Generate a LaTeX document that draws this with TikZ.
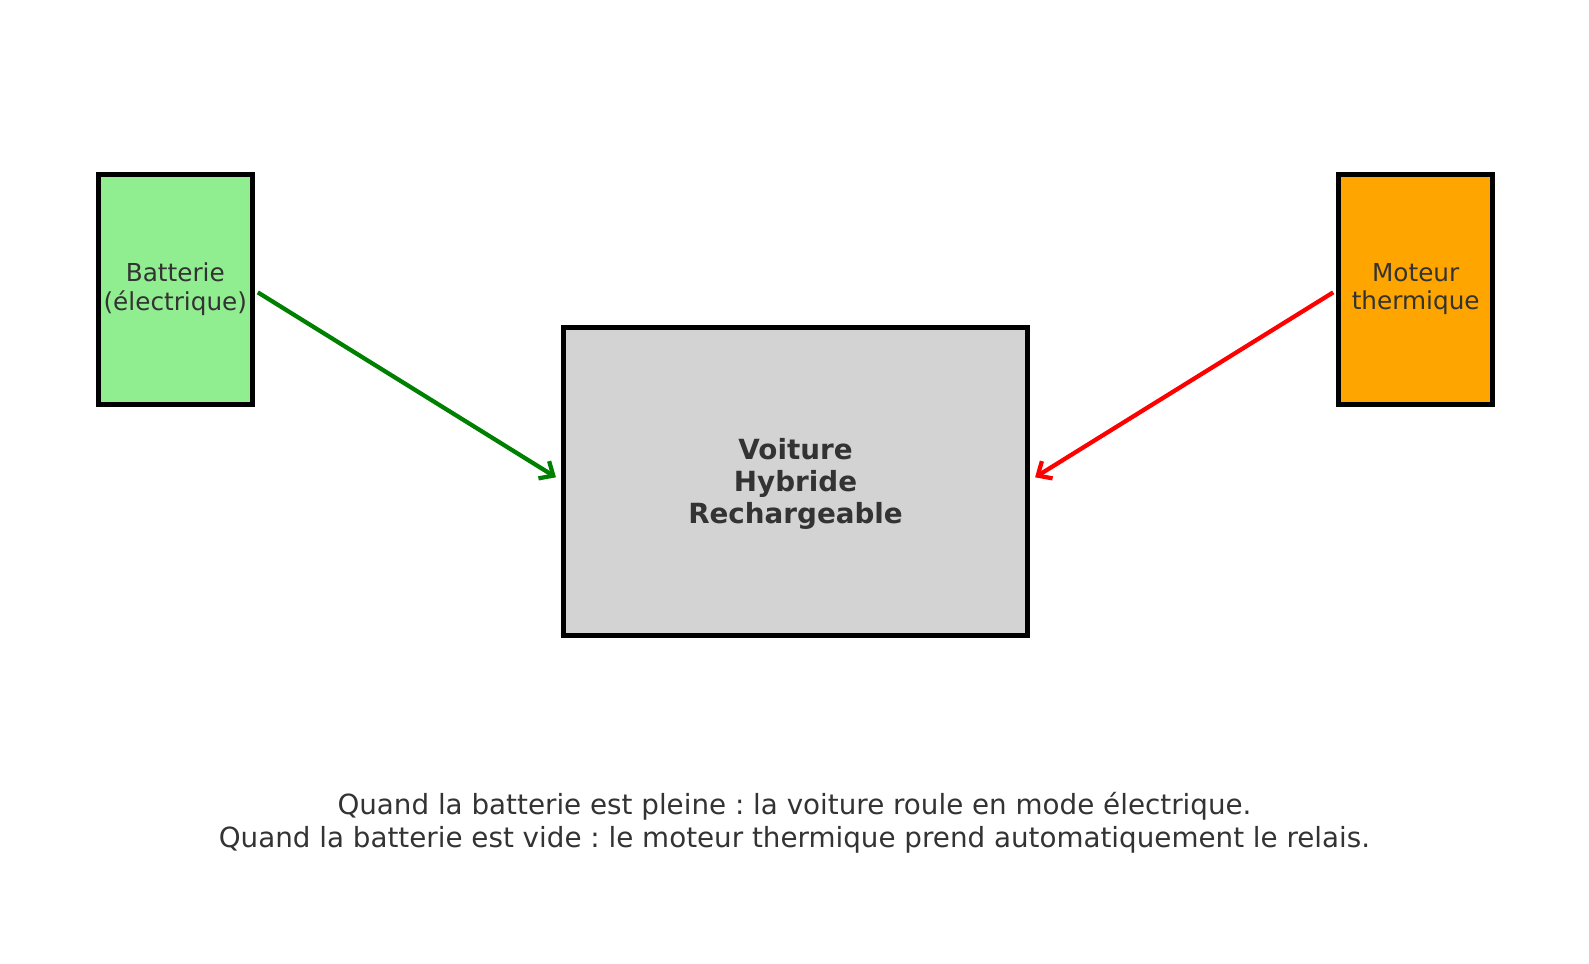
\documentclass[tikz,border=0pt]{standalone}
\usepackage{fontspec}
\setmainfont{DejaVu Sans}
\usetikzlibrary{arrows.meta,positioning}
\frenchspacing
\definecolor{txtgray}{HTML}{333333}
\definecolor{boxgreen}{HTML}{90EE90}
\definecolor{boxorange}{HTML}{FFA500}
\definecolor{boxgray}{HTML}{D3D3D3}
\definecolor{arrgreen}{HTML}{008000}
\begin{document}
\begin{tikzpicture}[x=0.5pt,y=-0.5pt,
every node/.style={text=txtgray,align=center,inner sep=0pt},
source/.style={draw=black,line width=2.4pt,minimum width=76pt,minimum height=113.5pt,
font=\fontsize{12.2}{14}\selectfont},
carbox/.style={draw=black,line width=2.4pt,fill=boxgray,minimum width=229pt,minimum height=152pt},
flow/.style={line width=2.1pt,-{Straight Barb[length=5.5pt,width=10pt]}}]
\useasboundingbox (0,0) rectangle (1568,951);
\node [source,fill=boxgreen] (bat) at (173,285.5) {Batterie\\(électrique)};
\node [source,fill=boxorange] (mot) at (1397,285.5) {Moteur\\thermique};
\node [carbox] (car) at (785,475) {};
\node [font=\bfseries\fontsize{13.7}{15.8}\selectfont] (cartext) at (785,478) {Voiture\\Hybride\\Rechargeable};
\node [font=\fontsize{13.7}{16.5}\selectfont] (note) at (784,812)
{Quand la batterie est pleine : la voiture roule en mode électrique.\\
Quand la batterie est vide : le moteur thermique prend automatiquement le relais.};
\draw [flow,arrgreen] ([shift={(1.5pt,-1.5pt)}]bat.east) -- ([shift={(-2.5pt,2pt)}]car.west);
\draw [flow,red] ([shift={(-1.5pt,-1.5pt)}]mot.west) -- ([shift={(2.5pt,2pt)}]car.east);
\end{tikzpicture}
\end{document}
